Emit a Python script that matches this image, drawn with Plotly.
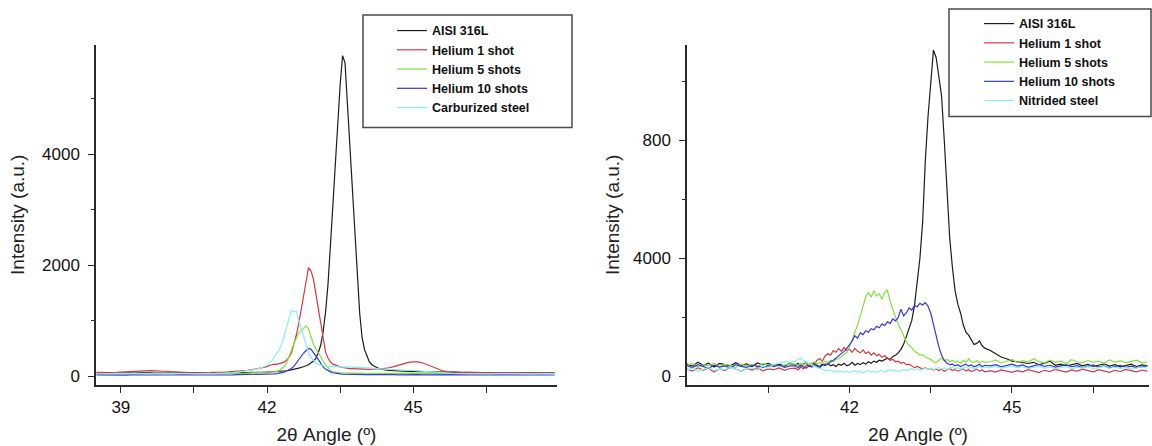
import numpy as np
import plotly.graph_objects as go

# ---------------- Left panel (Carburized) ----------------
x_left = np.round(np.concatenate([np.arange(38.5, 41.95, 0.1),
                                  np.arange(42.0, 44.501, 0.05),
                                  np.arange(44.6, 47.95, 0.1)]), 2)

aisi_left = [60, 55, 62, 58, 65, 60, 57, 63, 59, 61, 56, 64, 60, 58, 62, 57, 60, 63, 58, 61,
             59, 64, 60, 62, 58, 63, 60, 65, 62, 64, 66, 63, 68, 70, 72,
             75, 78, 80, 82, 85, 88, 92, 95, 100, 108, 115, 125, 135, 148, 160, 172, 190, 210, 240, 275, 320,
             420, 560, 800, 1150, 1650, 2350, 3100, 3850, 4550, 5250, 5780, 5650, 4900, 4150, 3300, 2550,
             1800, 1150, 700, 480,
             370, 260, 210, 180, 160, 140, 125, 118, 112, 108,
             100, 95, 92, 90, 88, 90, 85, 82, 78, 75, 72, 70, 68, 66, 65, 67, 63, 66, 64, 62,
             65, 63, 60, 64, 62, 60, 63, 61, 64, 60, 62, 59, 61, 60]
he1_left = [70, 66, 72, 68, 70, 75, 80, 88, 95, 100, 105, 102, 98, 100, 92, 85, 78, 72, 70, 66,
            68, 65, 70, 67, 72, 70, 75, 80, 85, 90, 100, 110, 120, 135, 150,
            175, 195, 210, 220, 215, 230, 240, 255, 290, 340, 420, 560, 740, 950, 1180, 1450, 1700, 1960,
            1900, 1760, 1500,
            1230, 920, 650, 440, 330, 260, 220, 200, 185, 170, 160, 150, 145, 140, 138, 135, 132, 130,
            128, 130,
            127, 125, 128, 126, 130, 132, 135, 140, 148, 155,
            175, 200, 230, 250, 262, 260, 240, 205, 165, 130, 100, 85, 75, 70, 68, 72, 66, 70, 68, 65,
            70, 67, 64, 68, 66, 63, 67, 65, 62, 66, 64, 61, 65, 62]
he5_left = [45, 42, 48, 44, 46, 43, 47, 45, 42, 46, 44, 48, 43, 45, 47, 42, 46, 44, 45, 48,
            43, 46, 44, 47, 45, 43, 48, 46, 50, 52, 55, 58, 62, 66, 70,
            72, 74, 78, 80, 85, 105, 135, 175, 240, 340, 470, 590, 700, 780, 820, 870, 910, 860, 700,
            580, 500,
            420, 350, 280, 215, 150, 100, 80, 70, 65, 62, 60, 58, 60, 57, 59, 56, 58, 55, 57, 56,
            54, 57, 55, 56, 54, 57, 55, 56, 53, 55,
            55, 52, 56, 50, 54, 52, 50, 53, 48, 51, 49, 52, 47, 50, 48, 51, 46, 49, 47, 50,
            48, 46, 49, 47, 45, 48, 46, 49, 47, 45, 48, 46, 44, 47]
he10_left = [28, 25, 22, 27, 24, 26, 23, 28, 25, 22, 26, 24, 27, 23, 25, 28, 24, 26, 22, 25,
             27, 24, 23, 26, 25, 28, 24, 27, 26, 29, 30, 32, 34, 36, 40,
             40, 42, 44, 46, 50, 54, 62, 75, 95, 118, 140, 180, 240, 310, 370, 420, 465, 500, 490,
             440, 370,
             305, 230, 170, 130, 100, 80, 65, 55, 48, 44, 40, 38, 37, 36, 35, 36, 34, 35, 33, 34,
             32, 33, 34, 31, 32, 33, 31, 30, 32, 31,
             30, 28, 31, 27, 29, 30, 26, 28, 27, 29, 25, 28, 26, 27, 29, 25, 27, 26, 28, 24,
             27, 25, 28, 26, 24, 27, 25, 28, 26, 24, 27, 25, 26, 24]
carb_left = [48, 45, 50, 46, 52, 47, 44, 50, 48, 46, 52, 49, 45, 50, 47, 44, 48, 51, 46, 49,
             45, 50, 47, 52, 48, 50, 55, 60, 68, 75, 85, 100, 115, 135, 160,
             200, 230, 280, 340, 410, 480, 580, 720, 880, 1050, 1190, 1160, 1180, 1020, 860, 700, 540,
             430, 340, 280, 240,
             215, 200, 190, 182, 178, 175, 172, 176, 170, 168, 172, 166, 170, 165, 168, 162, 165, 160,
             158, 160,
             155, 150, 145, 140, 138, 135, 132, 130, 128, 125,
             120, 115, 110, 108, 105, 100, 92, 85, 75, 68, 60, 55, 52, 50, 48, 52, 47, 50, 46, 49,
             45, 48, 50, 46, 49, 45, 48, 46, 50, 47, 45, 48, 46, 44]

# ---------------- Right panel (Nitrided) ----------------
x_right = np.round(np.concatenate([np.arange(39.0, 40.95, 0.1),
                                   np.arange(41.0, 44.501, 0.05),
                                   np.arange(44.6, 47.55, 0.1)]), 2)

aisi_right = [42, 35, 48, 38, 45, 32, 44, 40, 36, 47, 38, 43, 34, 46, 39, 44, 37, 42, 35, 45,
              38, 45, 36, 42, 48, 35, 40, 46, 38, 33, 42, 37, 44, 36, 40, 34, 42, 38, 45, 36,
              40, 48, 38, 44, 40, 47, 42, 50, 45, 52, 48, 55, 52, 58, 62, 58, 68, 72, 80, 92,
              110, 135, 160, 190, 240, 320, 400, 520, 730, 880, 1010, 1105, 1080, 1020, 950, 800,
              610, 470, 370, 290, 245, 215, 175, 150, 140, 125, 108, 112, 120, 104, 96,
              88, 78, 66, 60, 52, 50, 47, 44, 48, 40, 45, 52, 38, 42, 35, 40, 44, 36, 41, 34,
              39, 43, 35, 40, 33, 38, 42, 34, 39, 36]
he1_right = [25, 18, 30, 22, 28, 15, 26, 20, 32, 24, 18, 27, 22, 30, 19, 26, 23, 29, 21, 27,
             28, 22, 32, 26, 38, 35, 45, 40, 55, 60, 52, 70, 78, 72, 88, 82, 95, 85, 98, 88,
             92, 82, 95, 85, 80, 90, 78, 84, 72, 80, 70, 75, 65, 70, 62, 55, 58, 50, 52, 45,
             48, 40, 42, 35, 30, 34, 28, 25, 30, 24, 27, 22, 26, 20, 25, 18, 23, 27, 20, 24,
             18, 22, 26, 19, 23, 17, 21, 25, 18, 22, 16,
             20, 15, 22, 18, 14, 20, 16, 23, 18, 13, 21, 17, 24, 19, 15, 22, 18, 25, 20, 16,
             23, 19, 14, 21, 17, 24, 20, 16, 22, 18]
he5_right = [38, 44, 32, 40, 36, 45, 34, 41, 38, 30, 42, 36, 40, 33, 44, 37, 41, 35, 39, 43,
             42, 36, 45, 38, 48, 40, 44, 50, 42, 48, 45, 52, 46, 55, 50, 58, 60, 68, 75, 82,
             100, 125, 145, 175, 205, 235, 270, 285, 268, 290, 272, 280, 262, 285, 292, 255, 225,
             200, 178, 158, 140, 118, 105, 98, 85, 80, 72, 75, 65, 62, 58, 50, 46, 55, 62, 52,
             58, 50, 55, 48, 52, 45, 55, 48, 60, 50, 47, 54, 45, 52, 48,
             50, 56, 45, 52, 58, 47, 54, 49, 60, 51, 46, 55, 48, 53, 44, 57, 50, 46, 54, 48,
             52, 45, 56, 49, 53, 47, 51, 55, 46, 50]
he10_right = [36, 30, 40, 33, 28, 38, 32, 36, 29, 40, 34, 31, 38, 35, 30, 37, 33, 39, 31, 36,
              36, 30, 38, 33, 28, 36, 32, 40, 35, 30, 38, 42, 40, 50, 55, 62, 68, 75, 85, 95,
              108, 120, 138, 130, 148, 142, 155, 150, 162, 158, 170, 165, 178, 172, 185, 180, 195,
              188, 200, 228, 205, 215, 232, 225, 240, 236, 248, 242, 250, 238, 215, 175, 135, 100,
              72, 55, 45, 40, 42, 36, 40, 34, 38, 42, 35, 39, 33, 37, 41, 34, 38,
              36, 40, 33, 38, 42, 35, 39, 31, 37, 41, 34, 38, 32, 36, 40, 33, 37, 30, 35, 39,
              32, 36, 29, 34, 38, 31, 35, 30, 33, 37]
nitr_right = [22, 28, 18, 25, 30, 20, 26, 23, 32, 24, 19, 27, 29, 22, 35, 28, 40, 45, 50, 48,
              52, 58, 62, 55, 50, 45, 40, 35, 30, 28, 25, 22, 18, 22, 16, 20, 15, 19, 14, 18,
              13, 17, 20, 14, 18, 12, 16, 20, 15, 18, 13, 17, 21, 15, 19, 24, 18, 22, 16, 20,
              24, 19, 23, 27, 22, 26, 21, 25, 29, 24, 28, 23, 27, 31, 25, 29, 24, 28, 32, 26,
              30, 25, 29, 33, 27, 31, 26, 30, 34, 28, 32,
              30, 34, 28, 32, 36, 29, 33, 27, 31, 35, 28, 32, 26, 30, 34, 27, 31, 29, 33, 26,
              30, 34, 28, 32, 27, 31, 25, 29, 33, 28]

names_left = ["AISI 316L", "Helium 1 shot", "Helium 5 shots", "Helium 10 shots", "Carburized steel"]
names_right = ["AISI 316L", "Helium 1 shot", "Helium 5 shots", "Helium 10 shots", "Nitrided steel"]
colors = ["#1c1c1c", "#d9363e", "#84e03a", "#3636e0", "#86f0f2"]

left_series = [aisi_left, he1_left, he5_left, he10_left, carb_left]
right_series = [aisi_right, he1_right, he5_right, he10_right, nitr_right]
for s in left_series:
    assert len(s) == len(x_left), (len(s), len(x_left))
for s in right_series:
    assert len(s) == len(x_right), (len(s), len(x_right))

fig = go.Figure()
for name, ys, c in zip(names_left, left_series, colors):
    fig.add_trace(go.Scatter(x=x_left, y=ys, name=name, mode="lines",
                             line=dict(color=c, width=1.2), xaxis="x", yaxis="y",
                             legend="legend"))
for name, ys, c in zip(names_right, right_series, colors):
    fig.add_trace(go.Scatter(x=x_right, y=ys, name=name, mode="lines",
                             line=dict(color=c, width=1.2), xaxis="x2", yaxis="y2",
                             legend="legend2"))

W, H = 1152, 446
FONT = "Liberation Sans, Arial, sans-serif"
axcol = "#2a2a2a"


def px_x(p):
    return p / W


def px_y(p):
    return 1 - p / H


def xaxis_style():
    return dict(showline=True, linecolor=axcol, linewidth=1.5, ticks="outside", ticklen=6,
                tickwidth=1.3, tickcolor=axcol, showgrid=False, zeroline=False,
                tickfont=dict(family=FONT, size=17, color="#111"), ticklabelstandoff=0,
                title=dict(text="2θ Angle (º)", font=dict(family=FONT, size=19, color="#222"),
                           standoff=12))


def yaxis_style(title_standoff):
    return dict(showline=True, linecolor=axcol, linewidth=1.5, ticks="outside", ticklen=6,
                tickwidth=1.3, tickcolor=axcol, showgrid=False, zeroline=False,
                tickfont=dict(family=FONT, size=17, color="#111"), ticklabelstandoff=5,
                title=dict(text="Intensity (a.u.)", font=dict(family=FONT, size=19, color="#222"),
                           standoff=title_standoff))


ydom = [px_y(386.5), px_y(45)]

fig.update_layout(
    width=W, height=H, autosize=False,
    margin=dict(l=0, r=0, t=0, b=0),
    plot_bgcolor="white", paper_bgcolor="white",
    font=dict(family=FONT, color="#222"),
    xaxis=dict(domain=[px_x(96), px_x(557)], range=[38.49, 47.95], anchor="y",
               tickvals=[39, 40.5, 42, 43.5, 45, 46.5], ticktext=["39", "", "42", "", "45", ""],
               **xaxis_style()),
    yaxis=dict(domain=ydom, range=[-152, 5974], anchor="x",
               tickvals=[0, 2000, 4000],
               minor=dict(tickvals=[1000, 3000, 5000], ticks="outside", ticklen=3, tickcolor=axcol),
               **yaxis_style(12)),
    xaxis2=dict(domain=[px_x(687), px_x(1149)], range=[39.0, 47.53], anchor="y2",
                tickvals=[40.5, 42, 43.5, 45, 46.5], ticktext=["", "42", "", "45", ""],
                **xaxis_style()),
    yaxis2=dict(domain=ydom, range=[-28, 1123], anchor="x2",
                tickvals=[0, 400, 800], ticktext=["0", "4000", "800"],
                minor=dict(tickvals=[200, 600, 1000], ticks="outside", ticklen=3, tickcolor=axcol),
                **yaxis_style(8)),
    legend=dict(x=px_x(392), y=px_y(16), xanchor="left", yanchor="top",
                bgcolor="rgba(0,0,0,0)", borderwidth=0,
                font=dict(family=FONT, size=12.5, color="#111", weight="bold")),
    legend2=dict(x=px_x(979), y=px_y(9), xanchor="left", yanchor="top",
                 bgcolor="rgba(0,0,0,0)", borderwidth=0,
                 font=dict(family=FONT, size=12.5, color="#111", weight="bold")),
    shapes=[
        dict(type="rect", xref="paper", yref="paper",
             x0=px_x(363), x1=px_x(572), y0=px_y(128), y1=px_y(15),
             line=dict(color="#4a4a4a", width=1.5), fillcolor="white", layer="above"),
        dict(type="rect", xref="paper", yref="paper",
             x0=px_x(949), x1=px_x(1151), y0=px_y(117), y1=px_y(9),
             line=dict(color="#4a4a4a", width=1.5), fillcolor="white", layer="above"),
    ],
)

fig.write_html("out.html", config={"displayModeBar": False},
               post_script="document.body.style.margin='0';document.body.style.overflow='hidden';")
